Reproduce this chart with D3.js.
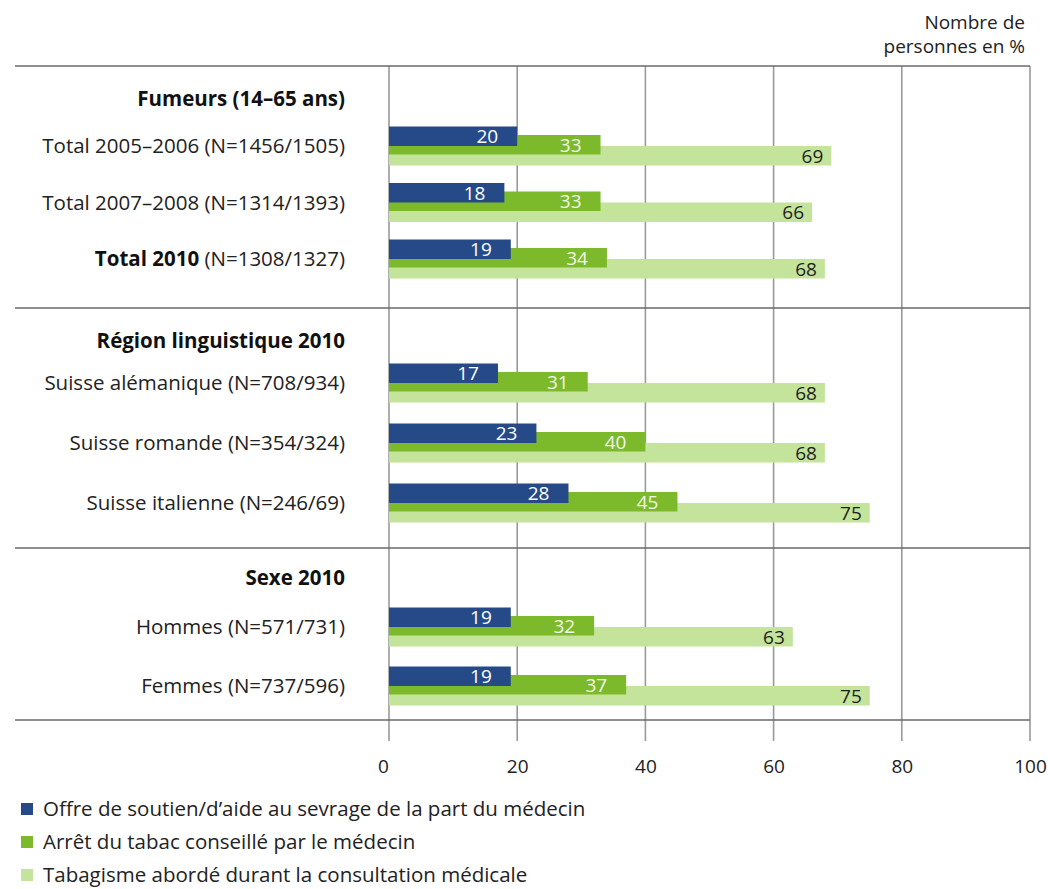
<!DOCTYPE html>
<html>
<head>
<meta charset="utf-8">
<script src="https://cdn.jsdelivr.net/npm/d3@7"></script>
<style>
  html, body { margin: 0; padding: 0; background: #fff; }
  svg { display: block; font-family: "Open Sans", "Noto Sans", sans-serif; }
</style>
</head>
<body>
<svg id="chart" width="1048" height="889"></svg>
<script>
// Groups and their rows
const groups = ["Fumeurs (14–65 ans)", "Région linguistique 2010", "Sexe 2010"];
const categoryNames = [
  "Total 2005–2006", "Total 2007–2008", "Total 2010",
  "Suisse alémanique", "Suisse romande", "Suisse italienne",
  "Hommes", "Femmes"
];
const sampleSizes = [
  "(N=1456/1505)", "(N=1314/1393)", "(N=1308/1327)",
  "(N=708/934)", "(N=354/324)", "(N=246/69)",
  "(N=571/731)", "(N=737/596)"
];
const categoryGroup = [0, 0, 0, 1, 1, 1, 2, 2];
const boldCategory = [false, false, true, false, false, false, false, false];

// Series (percent of persons)
const seriesNames = [
  "Offre de soutien/d’aide au sevrage de la part du médecin",
  "Arrêt du tabac conseillé par le médecin",
  "Tabagisme abordé durant la consultation médicale"
];
const supportOffered = [20, 18, 19, 17, 23, 28, 19, 19];
const quitAdvised   = [33, 33, 34, 31, 40, 45, 32, 37];
const smokingRaised = [69, 66, 68, 68, 68, 75, 63, 75];
const xTicks = [0, 20, 40, 60, 80, 100];
const unitLabel = ["Nombre de", "personnes en %"];

const seriesValues = [supportOffered, quitAdvised, smokingRaised];
const colors = ["#264a88", "#7cba2c", "#c5e49b"];
const valueColors = ["#ffffff", "#f2f7ea", "#1e1e1e"];

const svg = d3.select("#chart");
const plotLeft = 389, plotRight = 1030;
const lineLeft = 15;
const labelRight = 345;
const groupTops = [66, 308, 548];
const plotBottom = 720;
// space above first row / below last row, per group
const rowPadTop = [80, 75, 79];
const rowPadBottom = [49, 45, 34];
const headerOffset = [33, 33, 30];
const barH = 19.5;
const seriesOffset = [-19.5, -11, 0];
const valuePad = [19, 19, 8];
const labelSize = 20.5;
const smallSize = 19;

const x = d3.scaleLinear().domain([0, 100]).range([plotLeft, plotRight]);

// Row centre for each category from a per-group point scale
const rowY = new Array(categoryNames.length);
groups.forEach((g, gi) => {
  const idx = categoryNames.map((_, i) => i).filter(i => categoryGroup[i] === gi);
  const top = groupTops[gi];
  const bottom = gi < groups.length - 1 ? groupTops[gi + 1] : plotBottom;
  const y = d3.scalePoint().domain(idx).range([top + rowPadTop[gi], bottom - rowPadBottom[gi]]);
  idx.forEach(i => { rowY[i] = y(i); });
});

// Vertical gridlines and ticks
svg.append("g")
  .selectAll("line")
  .data(xTicks)
  .join("line")
  .attr("x1", d => x(d)).attr("x2", d => x(d))
  .attr("y1", groupTops[0]).attr("y2", plotBottom + 21)
  .attr("stroke", "#9a9a9a")
  .attr("stroke-width", 1.6);

// Bars: light series below, darker ones drawn on top
const barLayer = svg.append("g");
[2, 1, 0].forEach(s => {
  barLayer.append("g")
    .selectAll("rect")
    .data(seriesValues[s])
    .join("rect")
    .attr("x", x(0))
    .attr("y", (d, i) => rowY[i] + seriesOffset[s])
    .attr("width", d => x(d) - x(0))
    .attr("height", barH)
    .attr("fill", colors[s]);
});

// Value labels
[2, 1, 0].forEach(s => {
  svg.append("g")
    .selectAll("text")
    .data(seriesValues[s])
    .join("text")
    .attr("x", d => x(d) - valuePad[s])
    .attr("y", (d, i) => rowY[i] + seriesOffset[s] + barH / 2)
    .attr("dy", "0.36em")
    .attr("text-anchor", "end")
    .attr("font-size", smallSize)
    .attr("fill", valueColors[s])
    .text(d => d);
});

// Group separators
svg.append("g")
  .selectAll("line")
  .data(groupTops.concat([plotBottom]))
  .join("line")
  .attr("x1", lineLeft).attr("x2", plotRight)
  .attr("y1", d => d).attr("y2", d => d)
  .attr("stroke", "#6a6a6a")
  .attr("stroke-width", 1.6);

// Group headers
svg.append("g")
  .selectAll("text")
  .data(groups)
  .join("text")
  .attr("x", labelRight)
  .attr("y", (d, i) => groupTops[i] + headerOffset[i])
  .attr("dy", "0.35em")
  .attr("text-anchor", "end")
  .attr("font-size", labelSize)
  .attr("font-weight", "bold")
  .attr("fill", "#111")
  .text(d => d);

// Category labels
const catText = svg.append("g")
  .selectAll("text")
  .data(categoryNames)
  .join("text")
  .attr("x", labelRight)
  .attr("y", (d, i) => rowY[i])
  .attr("dy", "0.35em")
  .attr("text-anchor", "end")
  .attr("font-size", labelSize)
  .attr("fill", "#222");
catText.append("tspan")
  .attr("font-weight", (d, i) => boldCategory[i] ? "bold" : null)
  .attr("fill", (d, i) => boldCategory[i] ? "#111" : null)
  .text(d => d + " ");
catText.append("tspan")
  .text((d, i) => sampleSizes[i]);

// x axis labels
const axis = d3.axisBottom(x).tickValues(xTicks).tickSize(0).tickPadding(0).tickFormat(d3.format("d"));
const axisG = svg.append("g")
  .attr("transform", `translate(0, ${plotBottom + 39})`)
  .call(axis);
axisG.select(".domain").remove();
axisG.selectAll("text")
  .attr("font-size", smallSize)
  .attr("font-family", "\"Open Sans\", \"Noto Sans\", sans-serif")
  .attr("fill", "#222")
  .attr("dx", d => d === 0 ? -6 : 0);

// Unit label, top right
svg.append("g")
  .selectAll("text")
  .data(unitLabel)
  .join("text")
  .attr("x", 1025)
  .attr("y", (d, i) => 22 + i * 24)
  .attr("dy", "0.35em")
  .attr("text-anchor", "end")
  .attr("font-size", smallSize)
  .attr("fill", "#222")
  .text(d => d);

// Legend
const legend = svg.append("g")
  .selectAll("g")
  .data(seriesNames)
  .join("g")
  .attr("transform", (d, i) => `translate(21, ${809 + i * 33})`);
legend.append("rect")
  .attr("x", 0).attr("y", -6)
  .attr("width", 12).attr("height", 12)
  .attr("fill", (d, i) => colors[i]);
legend.append("text")
  .attr("x", 22)
  .attr("y", 0)
  .attr("dy", "0.35em")
  .attr("font-size", labelSize)
  .attr("fill", "#222")
  .text(d => d);
</script>
</body>
</html>
